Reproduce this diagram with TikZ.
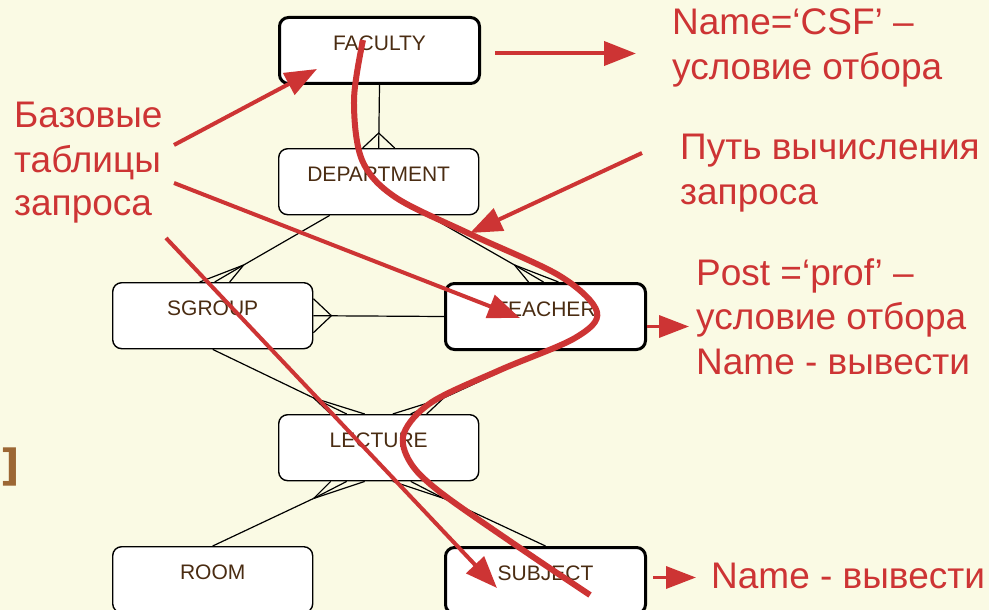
\documentclass[tikz,border=0pt]{standalone}
\usepackage{fontspec}
\setmainfont{Liberation Sans}
\newfontfamily\djb{DejaVu Sans}
\usetikzlibrary{arrows.meta,calc}
\definecolor{bg}{RGB}{250,250,228}
\definecolor{rd}{RGB}{205,52,52}
\definecolor{brn}{RGB}{74,44,18}
\definecolor{brk}{RGB}{156,103,52}
\tikzset{
  ent/.style={draw=black, fill=white, rounded corners=9pt, line width=1.4pt,
    minimum width=200pt, minimum height=66pt, inner sep=0pt,
    text height=33pt, text depth=33pt, text=brn,
    font=\fontsize{21}{24}\selectfont, anchor=north west},
  entb/.style={ent, line width=3pt},
  rel/.style={draw=black, line width=1.2pt},
  redtxt/.style={text=rd, inner sep=0pt, anchor=base west,
    font=\fontsize{37}{44}\selectfont},
  redarr/.style={draw=rd, line width=4pt, -{Triangle[length=32pt,width=24pt]}},
  redarrs/.style={draw=rd, line width=3.5pt, -{Triangle[length=30pt,width=22pt]}},
  path/.style={draw=rd, line width=6pt}
}
\begin{document}
\begin{tikzpicture}[x=1pt,y=-1pt]
\useasboundingbox (0,0) rectangle (989,610);
\fill[bg] (0,0) rectangle (989,610);

% bracket fragment
\node[text=brk, inner sep=0pt, anchor=base west, font=\djb\bfseries\fontsize{43}{43}\selectfont] (brk) at (0,480) {]};

% entities
\node[entb] (fac) at (278,16) {FACULTY};
\node[ent]  (dep) at (278,148) {DEPARTMENT};
\node[ent]  (sg)  at (112,282) {SGROUP};
\node[entb] (te)  at (444,282) {TEACHER};
\node[ent]  (lec) at (278,414) {LECTURE};
\node[ent]  (room) at (112,546) {ROOM};
\node[entb] (sub) at (444,546) {SUBJECT};

% FACULTY - DEPARTMENT
\draw[rel] (fac.south) -- (dep.north);
\draw[rel] ($(dep.north)+(-16,0)$) -- ($(dep.north)+(0,-15)$) -- ($(dep.north)+(16,0)$);

% DEPARTMENT - SGROUP
\draw[rel] ($(dep.south)+(-49,0)$) -- ($(sg.north)+(31,-17)$);
\foreach \d in {-13,2,17} \draw[rel] ($(sg.north)+(31,-17)$) -- ($(sg.north)+(\d,0)$);
% DEPARTMENT - TEACHER
\draw[rel] ($(dep.south)+(49,0)$) -- ($(te.north)+(-31,-17)$);
\foreach \d in {-17,-2,13} \draw[rel] ($(te.north)+(-31,-17)$) -- ($(te.north)+(\d,0)$);

% SGROUP - TEACHER
\draw[rel] (sg.east) -- (te.west);
\draw[rel] ($(sg.east)+(0,-17)$) -- ($(sg.east)+(18,0)$) -- ($(sg.east)+(0,17)$);

% SGROUP - LECTURE
\draw[rel] (sg.south) -- ($(lec.north)+(-65,-16)$);
\foreach \d in {-48,-32,-14} \draw[rel] ($(lec.north)+(-65,-16)$) -- ($(lec.north)+(\d,0)$);
% TEACHER - LECTURE
\draw[rel] (te.south) -- ($(lec.north)+(65,-16)$);
\foreach \d in {48,32,14} \draw[rel] ($(lec.north)+(65,-16)$) -- ($(lec.north)+(\d,0)$);

% LECTURE - ROOM
\draw[rel] (room.north) -- ($(lec.south)+(-65,17)$);
\foreach \d in {-48,-32,-14} \draw[rel] ($(lec.south)+(-65,17)$) -- ($(lec.south)+(\d,0)$);
% LECTURE - SUBJECT
\draw[rel] (sub.north) -- ($(lec.south)+(65,17)$);
\foreach \d in {48,32,14} \draw[rel] ($(lec.south)+(65,17)$) -- ($(lec.south)+(\d,0)$);

% red texts
\node[redtxt] (t1a) at (14,128) {Базовые};
\node[redtxt] (t1b) at (14,172) {таблицы};
\node[redtxt] (t1c) at (14,215) {запроса};
\node[redtxt] (t2a) at (672,35) {Name=‘CSF’ –};
\node[redtxt] (t2b) at (672,80) {условие отбора};
\node[redtxt] (t3a) at (680,160) {Путь вычисления};
\node[redtxt] (t3b) at (680,204) {запроса};
\node[redtxt] (t4a) at (696,285) {Post =‘prof’ –};
\node[redtxt] (t4b) at (696,329) {условие отбора};
\node[redtxt] (t4c) at (696,374) {Name - вывести};
\node[redtxt] (t5a) at (711,588) {Name - вывести};

% query path
\draw[path] plot[smooth, tension=0.55] coordinates {(363,40) (354,100) (362,160) (395,197) (470,234) (560,276) (597,312) (575,338) (500,370) (432,402) (404,433) (410,462) (440,492) (520,548) (590,595)};

% red arrows
\coordinate (a1s) at (174,145);
\coordinate (a1e) at (317,69);
\coordinate (a2s) at (174,183);
\coordinate (a2e) at (520,318);
\coordinate (a3s) at (166,238);
\coordinate (a3e) at (497,588);
\coordinate (a5s) at (642,153);
\coordinate (a5e) at (470,233);
\draw[redarr] (a1s) -- (a1e);
\draw[redarr] (a2s) -- (a2e);
\draw[redarr] (a3s) -- (a3e);
\draw[redarr] (a5s) -- (a5e);
\draw[redarr] ($(fac.east)+(14,3)$) -- ($(fac.east)+(155,3)$);
\draw[redarrs] ($(te.east)+(0,10)$) -- ($(te.east)+(42,10)$);
\draw[redarrs] ($(sub.east)+(6,-3)$) -- ($(sub.east)+(49,-3)$);
\end{tikzpicture}
\end{document}
